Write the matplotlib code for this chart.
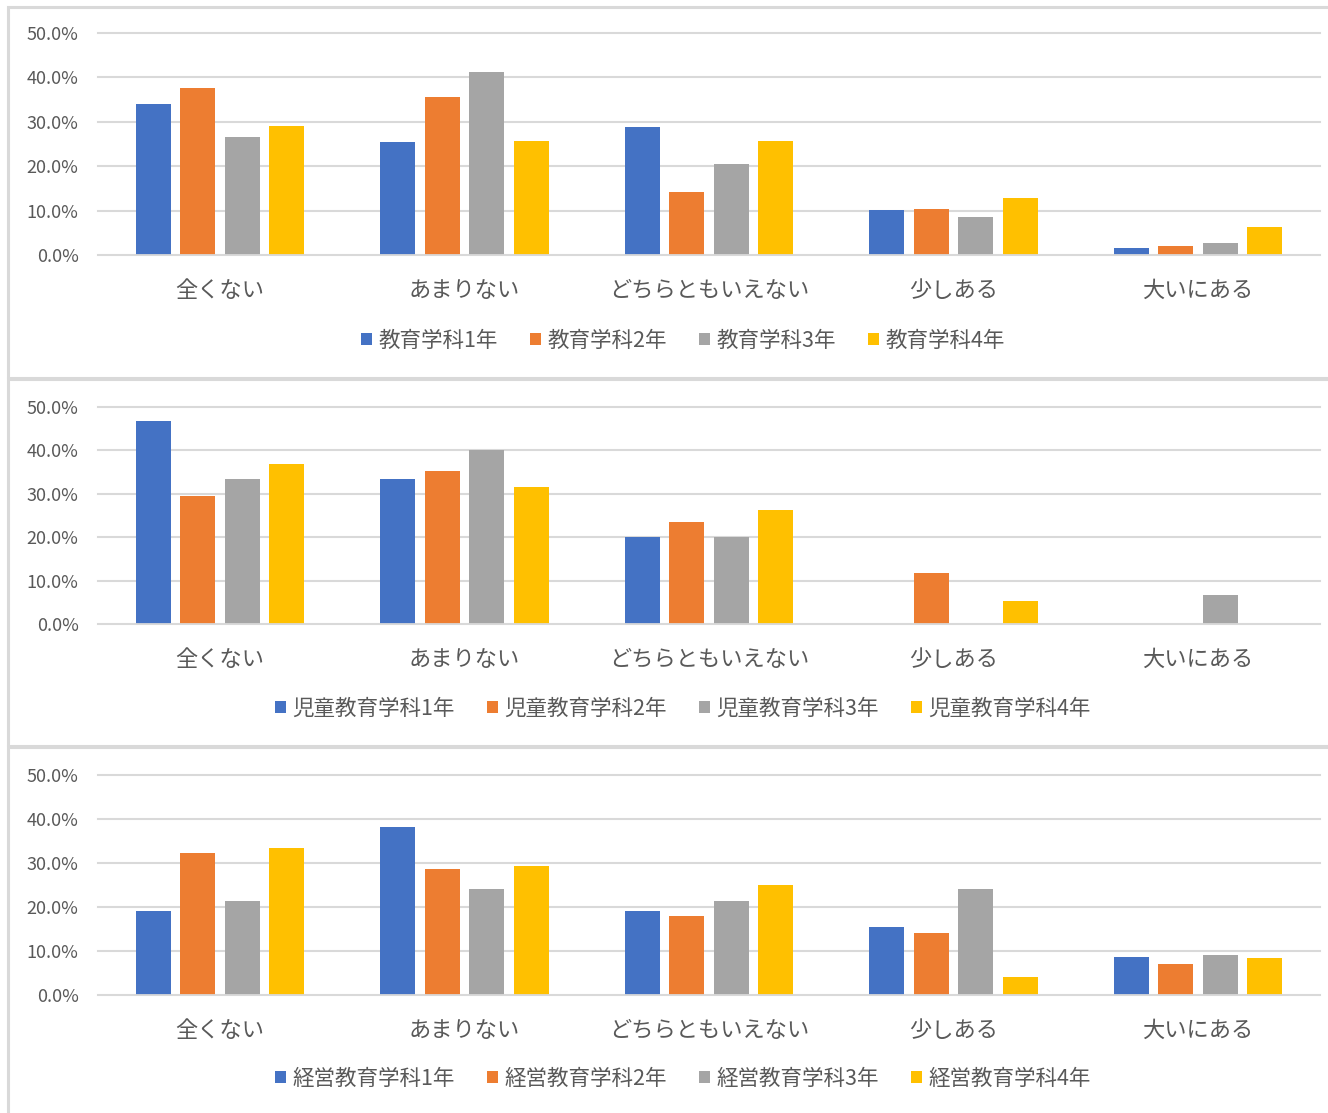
import numpy as np
import matplotlib.pyplot as plt
from matplotlib.patches import Rectangle

plt.rcParams['font.family'] = ['Noto Sans CJK JP', 'DejaVu Sans']

# 回答カテゴリ
categories = ['全くない', 'あまりない', 'どちらともいえない', '少しある', '大いにある']
colors = ['#4472C4', '#ED7D31', '#A5A5A5', '#FFC000']

# 教育学科 (%)
kyouiku_labels = ['教育学科1年', '教育学科2年', '教育学科3年', '教育学科4年']
kyouiku_1 = [33.9, 25.4, 28.9, 10.1, 1.5]
kyouiku_2 = [37.6, 35.5, 14.3, 10.4, 2.0]
kyouiku_3 = [26.6, 41.3, 20.4, 8.6, 2.8]
kyouiku_4 = [29.1, 25.7, 25.7, 12.8, 6.2]

# 児童教育学科 (%)
jidou_labels = ['児童教育学科1年', '児童教育学科2年', '児童教育学科3年', '児童教育学科4年']
jidou_1 = [46.7, 33.3, 20.0, 0.0, 0.0]
jidou_2 = [29.4, 35.2, 23.6, 11.7, 0.0]
jidou_3 = [33.3, 40.0, 20.0, 0.0, 6.6]
jidou_4 = [36.8, 31.6, 26.3, 5.2, 0.0]

# 経営教育学科 (%)
keiei_labels = ['経営教育学科1年', '経営教育学科2年', '経営教育学科3年', '経営教育学科4年']
keiei_1 = [19.0, 38.1, 19.0, 15.5, 8.6]
keiei_2 = [32.2, 28.6, 17.9, 14.2, 7.0]
keiei_3 = [21.4, 24.2, 21.4, 24.2, 9.2]
keiei_4 = [33.3, 29.3, 25.1, 4.2, 8.4]

panels = [
    (kyouiku_labels, [kyouiku_1, kyouiku_2, kyouiku_3, kyouiku_4]),
    (jidou_labels, [jidou_1, jidou_2, jidou_3, jidou_4]),
    (keiei_labels, [keiei_1, keiei_2, keiei_3, keiei_4]),
]

W, H = 1328, 1113
fig = plt.figure(figsize=(W / 100, H / 100), dpi=100)

# パネル位置 (ピクセル: 上端, 0%線, 凡例, 枠上, 枠下)
layout = [
    (33, 255, 341, 7, 378),
    (407, 624, 709, 379, 746),
    (775, 995, 1079, 747, 1125),
]
grid_c = '#D9D9D9'
text_c = '#595959'
x = np.arange(len(categories))
pitch = 0.182
width = 0.143

for (labels, series), (top, bot, leg_y, fr_top, fr_bot) in zip(panels, layout):
    fig.patches.append(Rectangle((8 / W, 1 - fr_bot / H), 1.05, (fr_bot - fr_top) / H,
                                 transform=fig.transFigure, fill=False,
                                 edgecolor=grid_c, linewidth=2.2))
    ax = fig.add_axes([98 / W, 1 - bot / H, 1222 / W, (bot - top) / H])
    bars = []
    for j, (lab, vals) in enumerate(zip(labels, series)):
        b = ax.bar(x + (j - 1.5) * pitch, vals, width, color=colors[j], label=lab, zorder=3)
        bars.append(b)
    ax.set_xlim(-0.5, len(categories) - 0.5)
    ax.set_ylim(0, 50)
    ax.set_yticks(np.arange(0, 51, 10))
    ax.set_yticklabels([f'{v:.1f}%' for v in np.arange(0, 51, 10)])
    ax.set_xticks(x)
    ax.set_xticklabels(categories)
    ax.grid(axis='y', color=grid_c, linewidth=1.5, zorder=0)
    for s in ax.spines.values():
        s.set_visible(False)
    ax.axhline(0, color=grid_c, linewidth=2, zorder=4)
    ax.tick_params(axis='y', length=0, pad=14, labelsize=13, labelcolor=text_c)
    ax.tick_params(axis='x', length=0, pad=17, labelsize=16, labelcolor=text_c)
    for gl in ax.get_ygridlines():
        gl.set_clip_on(False)
    fig.legend(bars, labels, loc='center', bbox_to_anchor=(683 / W, 1 - leg_y / H), ncol=4,
               frameon=False, fontsize=15.5, handlelength=0.5, handleheight=0.5,
               handletextpad=0.3, columnspacing=1.5, labelcolor=text_c)

fig.savefig('out.png', dpi=100, facecolor='white')
